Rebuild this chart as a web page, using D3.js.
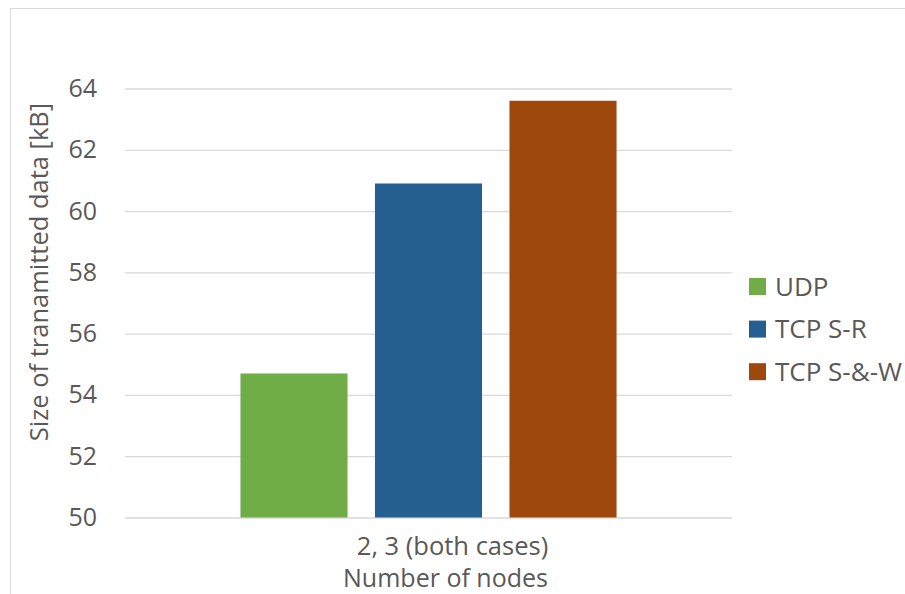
<!DOCTYPE html>
<html>
<head>
<meta charset="utf-8">
<script src="https://cdn.jsdelivr.net/npm/d3@7"></script>
<style>
  html, body { margin: 0; padding: 0; background: #ffffff; }
  svg { display: block; }
  text { font-family: "Open Sans", "Noto Sans", sans-serif; fill: #595959; }
</style>
</head>
<body>
<svg id="chart" width="905" height="594"></svg>
<script>
// Transmitted data size per protocol, for the 2- and 3-node setups
const categories = ["2, 3 (both cases)"];
const seriesNames = ["UDP", "TCP S-R", "TCP S-&-W"];
const seriesValues = [54.7, 60.9, 63.6];
const seriesColors = ["#70AD47", "#255E91", "#9E480E"];
const yTicks = [50, 52, 54, 56, 58, 60, 62, 64];
const yTitle = "Size of tranamitted data [kB]";
const xTitle = "Number of nodes";

const svg = d3.select("#chart");

// chart frame
svg.append("rect")
  .attr("x", 10.5).attr("y", 8.5)
  .attr("width", 1000).attr("height", 1000)
  .attr("fill", "none")
  .attr("stroke", "#d9d9d9")
  .attr("stroke-width", 1);

const plot = { left: 125, right: 732, top: 88.5, bottom: 517.5 };

const y = d3.scaleLinear()
  .domain([50, 64])
  .range([plot.bottom, plot.top]);

const x0 = d3.scaleBand()
  .domain(categories)
  .range([plot.left, plot.right])
  .paddingInner(0)
  .paddingOuter(0.307);

const x1 = d3.scaleBand()
  .domain(seriesNames)
  .range([0, x0.bandwidth()])
  .paddingInner(0.204)
  .paddingOuter(0);

// gridlines and value labels
const yAxis = d3.axisLeft(y)
  .tickValues(yTicks)
  .tickFormat(d3.format("d"))
  .tickSize(-(plot.right - plot.left))
  .tickPadding(28);

const gy = svg.append("g")
  .attr("transform", `translate(${plot.left},0)`)
  .call(yAxis);
gy.select(".domain").remove();
gy.selectAll(".tick line")
  .attr("stroke", "#d9d9d9")
  .attr("stroke-width", 1.3);
gy.selectAll(".tick text")
  .attr("fill", "#595959")
  .style("font-family", "'Open Sans', sans-serif")
  .style("font-size", "25px");

// bars
const groups = svg.append("g")
  .selectAll("g")
  .data(categories)
  .join("g")
  .attr("transform", d => `translate(${x0(d)},0)`);

groups.selectAll("rect")
  .data(() => seriesNames.map((name, i) => ({ name, value: seriesValues[i], color: seriesColors[i] })))
  .join("rect")
  .attr("x", d => x1(d.name))
  .attr("y", d => y(d.value))
  .attr("width", x1.bandwidth())
  .attr("height", d => y(50) - y(d.value))
  .attr("fill", d => d.color);

// category label and axis titles
svg.append("text")
  .attr("x", x0(categories[0]) + x0.bandwidth() / 2 + 24)
  .attr("y", 555)
  .attr("text-anchor", "middle")
  .style("font-size", "25.5px")
  .text(categories[0]);

svg.append("text")
  .attr("x", x0(categories[0]) + x0.bandwidth() / 2 + 17)
  .attr("y", 587)
  .attr("text-anchor", "middle")
  .style("font-size", "25px")
  .text(xTitle);

svg.append("text")
  .attr("transform", "translate(48,272) rotate(-90)")
  .attr("text-anchor", "middle")
  .style("font-size", "25.5px")
  .text(yTitle);

// legend
const legend = svg.append("g")
  .attr("transform", "translate(749,278)");

const items = legend.selectAll("g")
  .data(seriesNames)
  .join("g")
  .attr("transform", (d, i) => `translate(0,${i * 42.6})`);

items.append("rect")
  .attr("width", 17)
  .attr("height", 17)
  .attr("fill", (d, i) => seriesColors[i]);

items.append("text")
  .attr("x", 26)
  .attr("y", 17.5)
  .style("font-size", "26px")
  .text(d => d);
</script>
</body>
</html>
